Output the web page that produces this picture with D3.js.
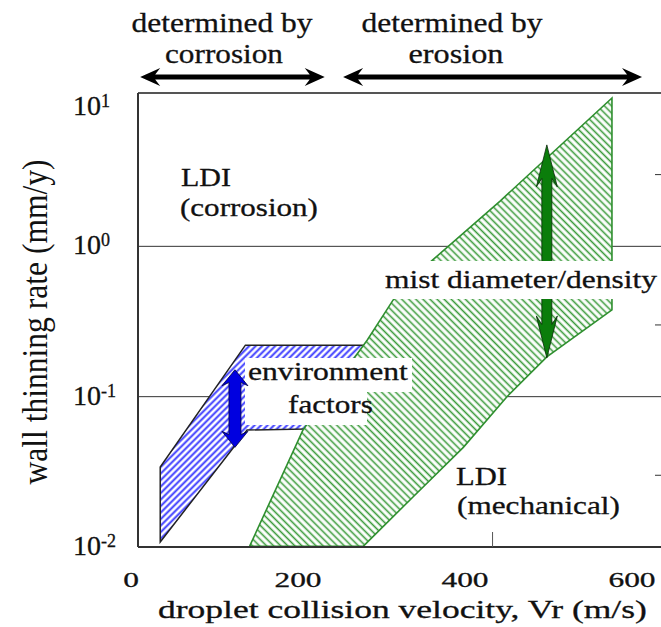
<!DOCTYPE html>
<html>
<head>
<meta charset="utf-8">
<script src="https://cdn.jsdelivr.net/npm/d3@7"></script>
<style>
  body { margin: 0; background: #fff; }
</style>
</head>
<body>
<div id="chart-area"></div>
<script>
// axis values
var xTicks = [0, 200, 400, 600];
var yTicks = [0.01, 0.1, 1, 10];
var yExp = ["-2", "-1", "0", "1"];
var gridVals = [0.1, 1];
var rightTicks = [3, 0.3, 0.03];
var bottomTicks = [433];

// corrosion dominated LDI band (blue)
var corrVel  = [35, 35, 137, 283, 283, 139];
var corrRate = [0.0108, 0.034, 0.22, 0.22, 0.062, 0.06];

// erosion (mechanical) LDI band (green)
var eroVel  = [142, 206, 244, 283, 314, 360, 442, 576, 576, 498, 450, 398, 338, 278];
var eroRate = [0.0101, 0.06, 0.12, 0.238, 0.44, 0.8, 2.0, 9.7, 0.378, 0.184, 0.0995, 0.046, 0.0216, 0.0101];

// influence arrows
var envVel = 124.5, envRate = [0.151, 0.046];
var mistVel = 498,  mistRate = [4.73, 0.181];

// top ranges
var corrSpan = [11, 232];
var eroSpan  = [254, 612];

var W = 661, H = 627;
var plot = {left: 138, top: 93, right: 662, bottom: 547};
var serif = "'Liberation Serif', 'Times New Roman', serif";

var x = d3.scaleLinear().domain([0, 600]).range([131, 632]);
var y = d3.scaleLog().domain([0.01, 10]).range([547, 96]);

var svg = d3.select("#chart-area").append("svg")
    .attr("width", W).attr("height", H);

var defs = svg.append("defs");

function hatch(id, angle, size, color, sw) {
  var p = defs.append("pattern")
      .attr("id", id)
      .attr("patternUnits", "userSpaceOnUse")
      .attr("width", size).attr("height", size)
      .attr("patternTransform", "rotate(" + angle + ")");
  p.append("rect").attr("width", size).attr("height", size).attr("fill", "#fff");
  p.append("line")
      .attr("x1", size / 2).attr("y1", 0)
      .attr("x2", size / 2).attr("y2", size)
      .attr("stroke", color).attr("stroke-width", sw);
}
hatch("hatchBlue", 45, 4.6, "#3535ff", 1.9);
hatch("hatchGreen", -45, 5, "#3a9a3a", 1.6);

// gridlines
svg.selectAll(".grid").data(gridVals).enter()
  .append("line")
    .attr("class", "grid")
    .attr("x1", plot.left).attr("x2", plot.right)
    .attr("y1", function(d){ return y(d); })
    .attr("y2", function(d){ return y(d); })
    .attr("stroke", "#333").attr("stroke-width", 1);

var area = d3.line()
    .x(function(d){ return x(d[0]); })
    .y(function(d){ return y(d[1]); });

svg.append("path")
    .attr("d", area(d3.zip(corrVel, corrRate)) + "Z")
    .attr("fill", "url(#hatchBlue)")
    .attr("stroke", "#222").attr("stroke-width", 1.5);

svg.append("path")
    .attr("d", area(d3.zip(eroVel, eroRate)) + "Z")
    .attr("fill", "url(#hatchGreen)")
    .attr("stroke", "#2f8f2f").attr("stroke-width", 1.6);

// double arrows
function vArrow(cx, ya, yb, hl, hw, sw) {
  var n = 0.8;
  var pts = [[cx, ya], [cx + hw/2, ya + hl], [cx + sw/2, ya + hl*n], [cx + sw/2, yb - hl*n],
             [cx + hw/2, yb - hl], [cx, yb], [cx - hw/2, yb - hl], [cx - sw/2, yb - hl*n],
             [cx - sw/2, ya + hl*n], [cx - hw/2, ya + hl]];
  return "M" + pts.join("L") + "Z";
}
function hArrow(cy, xa, xb, hl, hw, sw) {
  var n = 0.75;
  var pts = [[xa, cy], [xa + hl, cy - hw/2], [xa + hl*n, cy - sw/2], [xb - hl*n, cy - sw/2],
             [xb - hl, cy - hw/2], [xb, cy], [xb - hl, cy + hw/2], [xb - hl*n, cy + sw/2],
             [xa + hl*n, cy + sw/2], [xa + hl, cy + hw/2]];
  return "M" + pts.join("L") + "Z";
}

// green arrow sits under the label box
svg.append("path")
    .attr("d", vArrow(x(mistVel), y(mistRate[0]), y(mistRate[1]), 42, 21, 10))
    .attr("fill", "#0b7d0b").attr("stroke", "#0a2a0a").attr("stroke-width", 0.8);

// text stretched horizontally to the width it has in the figure
function txt(tx, ty, str, size, len, anchor) {
  var t = svg.append("text")
    .attr("x", 0).attr("y", 0)
    .style("font-family", serif)
    .attr("font-size", size + "px")
    .attr("fill", "#111")
    .attr("stroke", "#111").attr("stroke-width", 0.3)
    .text(str);
  var w = t.node().getComputedTextLength() || len;
  var x0 = anchor == "middle" ? tx - len / 2 : tx;
  t.attr("transform", "translate(" + x0 + "," + ty + ") scale(" + (len / w).toFixed(3) + ",1)");
  return t;
}

// label boxes
svg.append("rect").attr("x", 380).attr("y", 261).attr("width", 282).attr("height", 38).attr("fill", "#fff");
txt(385, 288, "mist diameter/density", 25, 272);

svg.append("rect").attr("x", 245).attr("y", 358).attr("width", 167).attr("height", 34).attr("fill", "#fff");
svg.append("rect").attr("x", 245).attr("y", 390).attr("width", 122).attr("height", 35).attr("fill", "#fff");
txt(248, 380, "environment", 25, 160);
txt(288, 413, "factors", 25, 85);

svg.append("path")
    .attr("d", vArrow(x(envVel), y(envRate[0]), y(envRate[1]), 16, 26, 12))
    .attr("fill", "#0000e0").attr("stroke", "#000040").attr("stroke-width", 0.8);

// region labels
txt(181, 186, "LDI", 26, 50);
txt(180, 216, "(corrosion)", 26, 138);
txt(456, 485, "LDI", 26, 51);
txt(457, 514, "(mechanical)", 26, 163);

// frame
svg.append("line").attr("x1", plot.left).attr("x2", plot.right).attr("y1", plot.top).attr("y2", plot.top)
    .attr("stroke", "#555").attr("stroke-width", 2);
svg.append("line").attr("x1", plot.left).attr("x2", plot.right).attr("y1", plot.bottom).attr("y2", plot.bottom)
    .attr("stroke", "#333").attr("stroke-width", 2);
svg.append("line").attr("x1", plot.left).attr("x2", plot.left).attr("y1", plot.top).attr("y2", plot.bottom)
    .attr("stroke", "#333").attr("stroke-width", 2);

svg.selectAll(".rtick").data(rightTicks).enter()
  .append("line")
    .attr("x1", 655).attr("x2", plot.right)
    .attr("y1", function(d){ return y(d); })
    .attr("y2", function(d){ return y(d); })
    .attr("stroke", "#333").attr("stroke-width", 1);

svg.selectAll(".btick").data(bottomTicks).enter()
  .append("line")
    .attr("x1", function(d){ return x(d); }).attr("x2", function(d){ return x(d); })
    .attr("y1", plot.bottom - 15).attr("y2", plot.bottom)
    .attr("stroke", "#555").attr("stroke-width", 1);

// x tick labels
xTicks.forEach(function(d){
  txt(x(d), 587, String(d), 22, String(d).length * 15.7, "middle");
});

// y tick labels
var ylab = svg.selectAll(".ylab").data(yTicks).enter()
  .append("text")
    .attr("transform", function(d, i){
      return "translate(73," + (y(d) + (i == yTicks.length - 1 ? 19 : 8)) + ")";
    })
    .style("font-family", serif)
    .attr("font-size", "28px")
    .attr("fill", "#111")
    .attr("stroke", "#111").attr("stroke-width", 0.3);
ylab.append("tspan").text("10");
ylab.append("tspan")
    .attr("dy", -8)
    .attr("font-size", "18px")
    .text(function(d, i){ return yExp[i]; });

// axis titles
txt(158, 618, "droplet collision velocity, Vr (m/s)", 26, 489);

svg.append("text")
    .attr("transform", "translate(47,322) scale(1.16,1) rotate(-90)")
    .attr("text-anchor", "middle")
    .style("font-family", serif)
    .attr("fill", "#111")
    .attr("font-size", "31px").attr("textLength", 325).attr("lengthAdjust", "spacingAndGlyphs")
    .text("wall thinning rate (mm/y)");

// top ranges
svg.append("path").attr("d", hArrow(77, x(corrSpan[0]), x(corrSpan[1]), 20, 18, 5)).attr("fill", "#000");
svg.append("path").attr("d", hArrow(77, x(eroSpan[0]), x(eroSpan[1]), 20, 18, 5)).attr("fill", "#000");

txt(222, 32, "determined by", 28, 181, "middle");
txt(224, 63, "corrosion", 28, 118, "middle");
txt(452, 32, "determined by", 28, 181, "middle");
txt(456, 63, "erosion", 28, 95, "middle");
</script>
</body>
</html>
